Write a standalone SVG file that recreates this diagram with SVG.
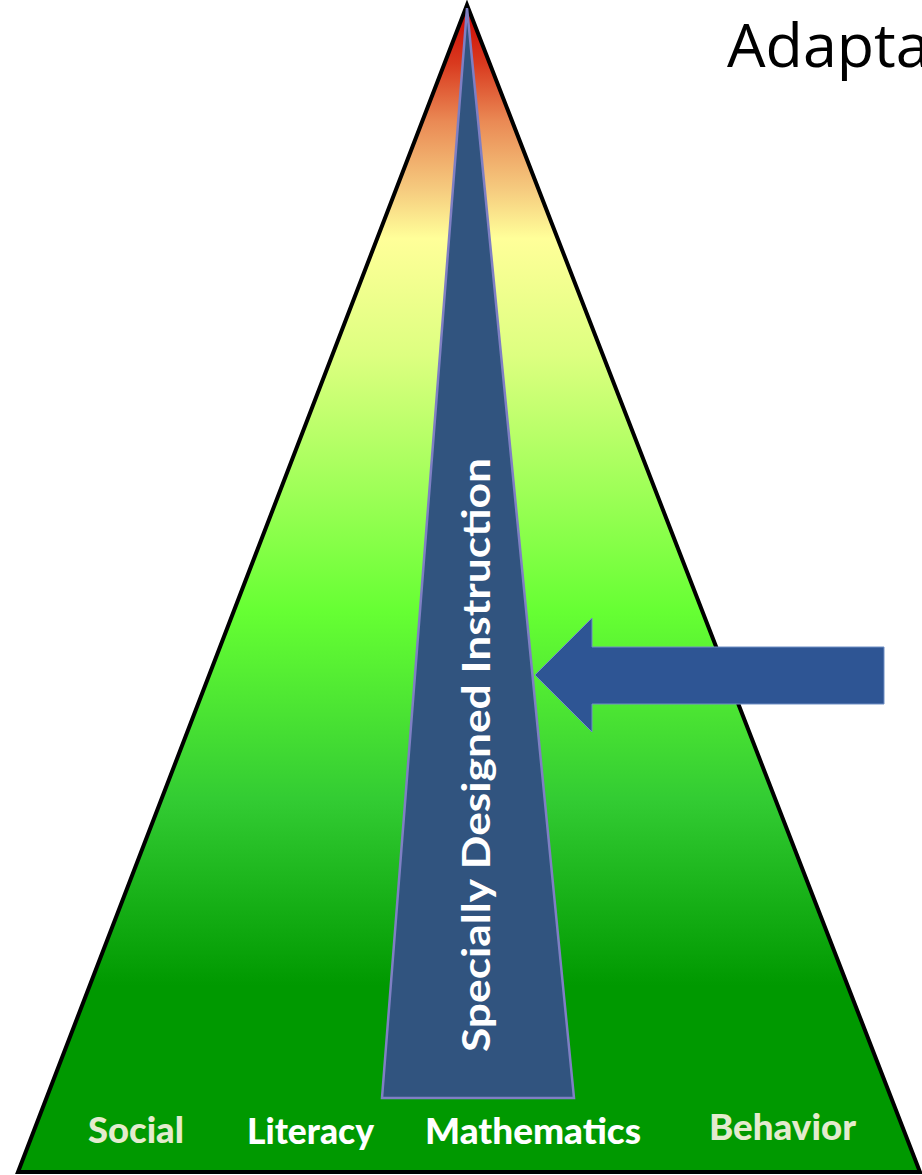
<svg xmlns="http://www.w3.org/2000/svg" width="922" height="1175" viewBox="0 0 922 1175">
<defs>
<linearGradient id="pyr" x1="0" y1="5" x2="0" y2="1172" gradientUnits="userSpaceOnUse">
<stop offset="0" stop-color="#cc0000"/>
<stop offset="0.05" stop-color="#d93a1f"/>
<stop offset="0.1" stop-color="#ea8a55"/>
<stop offset="0.16" stop-color="#f6cd80"/>
<stop offset="0.2" stop-color="#ffff99"/>
<stop offset="0.3" stop-color="#ddff80"/>
<stop offset="0.52" stop-color="#66ff33"/>
<stop offset="0.68" stop-color="#33cc33"/>
<stop offset="0.84" stop-color="#009900"/>
<stop offset="1" stop-color="#009900"/>
</linearGradient>
<style>
.lbl{font-family:"Lato","Open Sans","Liberation Sans",sans-serif;font-weight:900;font-size:36px}
</style>
</defs>
<rect width="922" height="1175" fill="#ffffff"/>
<g id="title">
<text x="727" y="67" font-family="'Open Sans','Liberation Sans',sans-serif" font-size="61" fill="#000000">Adapta</text>
</g>
<g id="pyramid">
<polygon points="467,5 18,1172 920,1172" fill="url(#pyr)" stroke="#000000" stroke-width="4" stroke-linejoin="miter"/>
</g>
<g id="sdi">
<polygon points="467,8 382,1098 574,1098" fill="#31547f" stroke="#7f7fc4" stroke-width="2.5"/>
<text transform="translate(490,1052) rotate(-90)" font-family="'Lato','Open Sans','Liberation Sans',sans-serif" font-weight="bold" font-size="39" fill="#ffffff" textLength="594" lengthAdjust="spacingAndGlyphs">Specially Designed Instruction</text>
</g>
<g id="connectors">
<polygon id="arrow" points="535,675 592,618 592,647 884,647 884,704 592,704 592,732" fill="#2e5594" stroke="#6f8fc4" stroke-width="1"/>
</g>
<g id="labels">
<text class="lbl" x="88" y="1143" fill="#e4ebce" textLength="96" lengthAdjust="spacingAndGlyphs">Social</text>
<text class="lbl" x="247" y="1144" fill="#ffffff" textLength="127" lengthAdjust="spacingAndGlyphs">Literacy</text>
<text class="lbl" x="425" y="1144" fill="#ffffff" textLength="216" lengthAdjust="spacingAndGlyphs">Mathematics</text>
<text class="lbl" x="709" y="1140" fill="#e4ebce" textLength="147" lengthAdjust="spacingAndGlyphs">Behavior</text>
</g>
</svg>
